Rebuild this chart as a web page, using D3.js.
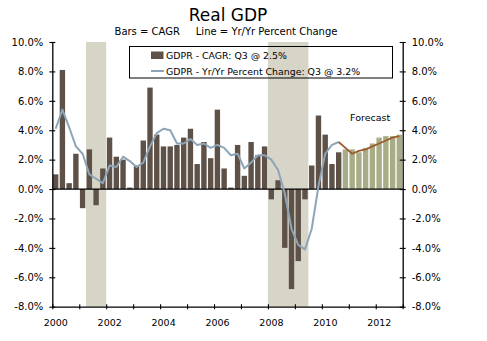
<!DOCTYPE html>
<html>
<head>
<meta charset="utf-8">
<script src="https://cdn.jsdelivr.net/npm/d3@7"></script>
<style>
  html, body { margin: 0; padding: 0; background: #fff; }
  svg { display: block; }
  text { font-family: "DejaVu Sans", Verdana, sans-serif; fill: #000; }
</style>
</head>
<body>
<svg id="chart" width="487" height="341"></svg>
<script>
// ---- data ----
const years = [2000, 2001, 2002, 2003, 2004, 2005, 2006, 2007, 2008, 2009, 2010, 2011, 2012];
const quarters = years.flatMap(y => ["Q1", "Q2", "Q3", "Q4"].map(q => y + q));

// Bars: CAGR (quarterly annualized), actual 2000Q1..2010Q3
const cagrActual = [1.0, 8.1, 0.4, 2.4, -1.3, 2.7, -1.1, 1.4, 3.5, 2.2, 2.0, 0.1,
  1.6, 3.3, 6.9, 3.7, 2.9, 2.9, 3.0, 3.5, 4.1, 1.7, 3.2, 2.1,
  5.4, 1.4, 0.1, 3.0, 0.9, 3.2, 2.3, 2.9, -0.7, 0.6, -4.0, -6.8,
  -4.9, -0.7, 1.6, 5.0, 3.7, 1.7, 2.5];
// Bars: CAGR forecast 2010Q4..2012Q4
const cagrForecast = [2.7, 2.7, 2.5, 2.8, 3.1, 3.5, 3.6, 3.6, 3.7];

// Line: Yr/Yr percent change, actual 2000Q1..2010Q3
const yoyActual = [4.1, 5.4, 4.2, 2.9, 2.4, 1.0, 0.7, 0.4, 1.6, 1.5, 2.2, 1.9,
  1.5, 1.8, 2.9, 3.8, 4.1, 4.0, 3.1, 3.1, 3.4, 3.0, 3.1, 2.8,
  3.0, 2.8, 2.3, 2.4, 1.4, 1.8, 2.3, 2.3, 2.0, 1.3, -0.3, -2.7,
  -3.8, -4.1, -2.7, 0.2, 2.4, 3.0, 3.2];
// Line: Yr/Yr forecast 2010Q3..2012Q4 (starts at last actual point)
const yoyForecast = [3.2, 2.8, 2.4, 2.6, 2.7, 2.9, 3.1, 3.3, 3.5, 3.6];

// Recessions (fractional years)
const recessions = [[2001.25, 2002.0], [2008.0, 2009.5]];

const yTicks = [-8, -6, -4, -2, 0, 2, 4, 6, 8, 10];
const xTickYears = [2000, 2001, 2002, 2003, 2004, 2005, 2006, 2007, 2008, 2009, 2010, 2011, 2012, 2013];
const xLabelYears = [2000, 2002, 2004, 2006, 2008, 2010, 2012];

const title = "Real GDP";
const subtitle = "Bars = CAGR     Line = Yr/Yr Percent Change";
const legendLabels = ["GDPR - CAGR: Q3 @ 2.5%", "GDPR - Yr/Yr Percent Change: Q3 @ 3.2%"];
const forecastLabel = "Forecast";

// ---- layout ----
const plot = { left: 52.3, right: 402.7, top: 42, bottom: 306.7 };
const colors = {
  bar: "#5e5148", forecastBar: "#a9ad87", line: "#8da5b7",
  forecastLine: "#9d5a2c", shade: "#d7d4c8", axis: "#000"
};

const svg = d3.select("#chart");

const x = d3.scaleBand().domain(quarters).range([plot.left, plot.right])
  .paddingInner(0.2).paddingOuter(0.1);
const xYear = d3.scaleLinear().domain([2000, 2013]).range([plot.left, plot.right]);
const y = d3.scaleLinear().domain([-8, 10]).range([plot.bottom, plot.top]);

// recession shading
svg.append("g").selectAll("rect").data(recessions).join("rect")
  .attr("x", d => xYear(d[0])).attr("width", d => xYear(d[1]) - xYear(d[0]))
  .attr("y", plot.top).attr("height", plot.bottom - plot.top)
  .attr("fill", colors.shade);

// bars
const barData = cagrActual.map((v, i) => ({ q: quarters[i], v, f: false }))
  .concat(cagrForecast.map((v, i) => ({ q: quarters[cagrActual.length + i], v, f: true })));
svg.append("g").selectAll("rect").data(barData).join("rect")
  .attr("x", d => x(d.q)).attr("width", x.bandwidth())
  .attr("y", d => y(Math.max(0, d.v)))
  .attr("height", d => Math.abs(y(d.v) - y(0)))
  .attr("fill", d => d.f ? colors.forecastBar : colors.bar);

// zero line
svg.append("line")
  .attr("x1", plot.left).attr("x2", plot.right)
  .attr("y1", y(0)).attr("y2", y(0))
  .attr("stroke", colors.axis).attr("stroke-width", 1.3);

// lines
const cx = q => x(q) + x.bandwidth() / 2;
const lineGen = d3.line().x(d => cx(d.q)).y(d => y(d.v));
svg.append("path")
  .datum(yoyActual.map((v, i) => ({ q: quarters[i], v })))
  .attr("d", lineGen).attr("fill", "none")
  .attr("stroke", colors.line).attr("stroke-width", 2).attr("stroke-linejoin", "round");
const fStart = yoyActual.length - 1;
svg.append("path")
  .datum(yoyForecast.map((v, i) => ({ q: quarters[fStart + i], v })))
  .attr("d", lineGen).attr("fill", "none")
  .attr("stroke", colors.forecastLine).attr("stroke-width", 1.8).attr("stroke-linejoin", "round");

// axes
const fmt = d => d.toFixed(1) + "%";
const gL = svg.append("g").attr("transform", `translate(${plot.left},0)`)
  .call(d3.axisLeft(y).tickValues(yTicks).tickFormat(fmt).tickSize(3).tickSizeOuter(0).tickPadding(6));
gL.selectAll(".tick line").attr("x1", 3);
const gR = svg.append("g").attr("transform", `translate(${plot.right},0)`)
  .call(d3.axisRight(y).tickValues(yTicks).tickFormat(fmt).tickSize(3).tickSizeOuter(0).tickPadding(6));
gR.selectAll(".tick line").attr("x1", -3);
const gB = svg.append("g").attr("transform", `translate(0,${plot.bottom})`)
  .call(d3.axisBottom(xYear).tickValues(xTickYears)
    .tickFormat(d => xLabelYears.includes(d) ? String(d) : "")
    .tickSize(2.5).tickSizeOuter(0).tickPadding(10));
gB.selectAll(".tick line").attr("y1", -2.5);
gB.selectAll(".tick text").attr("dx", 3);
[gL, gR, gB].forEach(g => {
  g.selectAll("text").style("font-family", '"DejaVu Sans", Verdana, sans-serif')
    .style("font-size", "10px").attr("fill", "#000");
  g.selectAll(".domain").attr("stroke", colors.axis).attr("stroke-width", 1.3);
  g.selectAll(".tick line").attr("stroke", colors.axis).attr("stroke-width", 1.1);
});
gB.selectAll("text").style("font-size", "9.5px");

// title & subtitle
svg.append("text").attr("x", 228).attr("y", 21).attr("text-anchor", "middle")
  .style("font-size", "17px").text(title);
svg.append("text").attr("x", 226).attr("y", 35).attr("text-anchor", "middle")
  .style("font-size", "10px").style("white-space", "pre").attr("xml:space", "preserve").text(subtitle);

// forecast label
svg.append("text").attr("x", 350).attr("y", 120.5)
  .style("font-size", "9.5px").text(forecastLabel);

// legend
const lg = svg.append("g");
lg.append("rect").attr("x", 129.5).attr("y", 46.5).attr("width", 263).attr("height", 31.5)
  .attr("fill", "none").attr("stroke", "#000").attr("stroke-width", 1);
lg.append("rect").attr("x", 151).attr("y", 51.5).attr("width", 12.5).attr("height", 7.5)
  .attr("fill", colors.bar);
lg.append("text").attr("x", 166).attr("y", 59).style("font-size", "9.4px").text(legendLabels[0]);
lg.append("line").attr("x1", 151).attr("x2", 164).attr("y1", 71).attr("y2", 71)
  .attr("stroke", colors.line).attr("stroke-width", 2);
lg.append("text").attr("x", 166).attr("y", 74.5).style("font-size", "9.4px").text(legendLabels[1]);
</script>
</body>
</html>
